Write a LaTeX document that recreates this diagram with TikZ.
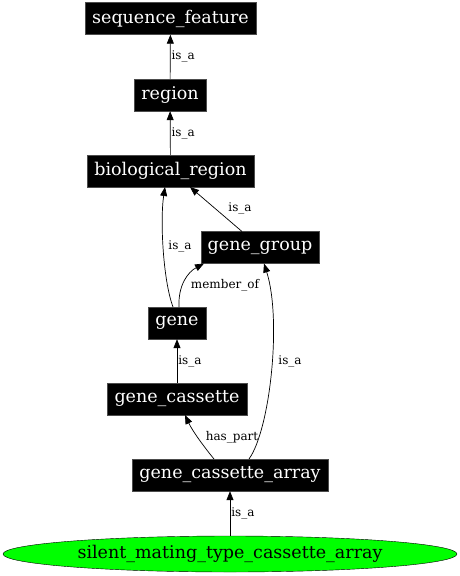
\documentclass[tikz,border=0pt]{standalone}
\usepackage{fontspec}
\setmainfont{DejaVu Serif}
\usetikzlibrary{arrows.meta,shapes.geometric}
\begin{document}
\begin{tikzpicture}[x=1pt,y=-1pt,
  term/.style={fill=black,draw=black!70,text=white,font=\fontsize{17.5}{20}\selectfont,minimum height=32pt,inner sep=0pt},
  leaf/.style={ellipse,fill=green,draw=black,font=\fontsize{17.5}{20}\selectfont,minimum width=454pt,minimum height=36pt,inner sep=0pt},
  rel/.style={draw=black,line width=0.7pt,-{Triangle[length=9pt,width=7pt]}},
  lab/.style={font=\fontsize{12}{14}\selectfont,inner sep=1pt}]
\useasboundingbox (0,0) rectangle (460,576);
\node[term,minimum width=171pt] (sf) at (170.5,18.5) {sequence\_feature};
\node[term,minimum width=72pt] (reg) at (170,95) {region};
\node[term,minimum width=167pt] (bio) at (170.5,171) {biological\_region};
\node[term,minimum width=118pt] (gg) at (260,247.5) {gene\_group};
\node[term,minimum width=58pt] (gene) at (177,323) {gene};
\node[term,minimum width=140pt] (gc) at (177,399) {gene\_cassette};
\node[term,minimum width=196pt] (gca) at (230,475) {gene\_cassette\_array};
\node[leaf] (smt) at (230,554) {silent\_mating\_type\_cassette\_array};

\coordinate (geneT1) at (173,307);
\coordinate (geneT2) at (179,307);
\coordinate (bioB1) at (165,187);
\coordinate (bioB2) at (190,187);
\coordinate (ggT) at (242,231.5);
\coordinate (ggB1) at (204,263.5);
\coordinate (ggB2) at (264,263.5);
\coordinate (gcaT1) at (214,459);
\coordinate (gcaT2) at (249,459);
\coordinate (gcB) at (185,415);

\draw[rel] (reg) -- (sf) node[lab,midway,right] {is\_a};
\draw[rel] (bio) -- (reg) node[lab,midway,right] {is\_a};
\draw[rel] (geneT1) .. controls (163,280) and (160,220) .. (bioB1);
\node[lab] (l3) at (180,246) {is\_a};
\draw[rel] (ggT) -- (bioB2);
\node[lab] (l4) at (240,208) {is\_a};
\draw[rel] (geneT2) .. controls (178,285) and (188,272) .. (ggB1);
\node[lab] (l5) at (225,285) {member\_of};
\draw[rel] (gc) -- (gene) node[lab,midway,right] {is\_a};
\draw[rel] (gcaT1) .. controls (205,448) and (193,432) .. (gcB);
\node[lab] (l7) at (232,437) {has\_part};
\draw[rel] (gcaT2) .. controls (270,430) and (282,320) .. (ggB2);
\node[lab] (l8) at (290,361) {is\_a};
\draw[rel] (smt) -- (gca) node[lab,midway,right] {is\_a};
\end{tikzpicture}
\end{document}
